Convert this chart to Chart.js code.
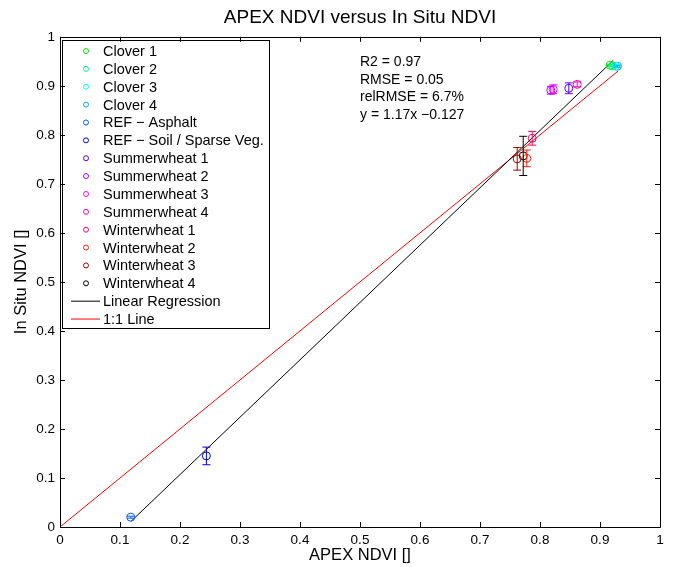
<!DOCTYPE html>
<html>
<head>
<meta charset="utf-8">
<script src="https://cdn.jsdelivr.net/npm/chart.js@4"></script>
<style>
  html, body { margin: 0; padding: 0; background: #fff; }
  #wrap { width: 679px; height: 567px; }
</style>
</head>
<body>
<div id="wrap"><canvas id="chart" width="679" height="567"></canvas></div>
<script>
const seriesNames = ["Clover 1", "Clover 2", "Clover 3", "Clover 4", "REF \u2212 Asphalt", "REF \u2212 Soil / Sparse Veg.",
  "Summerwheat 1", "Summerwheat 2", "Summerwheat 3", "Summerwheat 4",
  "Winterwheat 1", "Winterwheat 2", "Winterwheat 3", "Winterwheat 4"];
const seriesColors = ["#00e000", "#00ff80", "#00ffff", "#00a8ff", "#0060ff", "#0000d0",
  "#5a00ff", "#b000ff", "#ff00ff", "#ff00b0",
  "#ff0060", "#ff2000", "#a00000", "#000000"];
const apexNdvi = [0.917, 0.921, 0.926, 0.929, 0.118, 0.244, 0.848, 0.818, 0.822, 0.862, 0.787, 0.778, 0.762, 0.772];
const inSituNdvi = [0.942, 0.941, 0.940, 0.940, 0.020, 0.145, 0.895, 0.891, 0.893, 0.903, 0.793, 0.752, 0.751, 0.757];
const inSituErr = [0.002, 0.002, 0.002, 0.002, 0.002, 0.018, 0.011, 0.008, 0.009, 0.005, 0.014, 0.017, 0.023, 0.040];

const regression = [{ x: 0.118, y: 1.17 * 0.118 - 0.127 }, { x: 0.922, y: 1.17 * 0.922 - 0.127 }];
const oneToOne = [{ x: 0, y: 0 }, { x: 0.93, y: 0.93 }];
const statsText = ["R2 = 0.97", "RMSE = 0.05", "relRMSE = 6.7%", "y = 1.17x \u22120.127"];
const tickValues = [0, 0.1, 0.2, 0.3, 0.4, 0.5, 0.6, 0.7, 0.8, 0.9, 1];

const FONT = "'Liberation Sans', Arial, sans-serif";

const datasets = seriesNames.map((name, i) => ({
  label: name,
  type: "scatter",
  data: [{ x: apexNdvi[i], y: inSituNdvi[i] }],
  borderColor: seriesColors[i],
  backgroundColor: "rgba(0,0,0,0)",
  pointRadius: 4,
  pointBorderWidth: 1,
  pointStyle: "circle",
}));
datasets.push({
  label: "Linear Regression", type: "line", data: regression,
  borderColor: "#000000", borderWidth: 1, pointRadius: 0, fill: false,
});
datasets.push({
  label: "1:1 Line", type: "line", data: oneToOne,
  borderColor: "#ff0000", borderWidth: 1, pointRadius: 0, fill: false,
});

// error bars, frame with inside ticks, legend box and stats text
const matlabLook = {
  id: "matlabLook",
  afterDatasetsDraw(chart) {
    const ctx = chart.ctx;
    const xs = chart.scales.x, ys = chart.scales.y;
    ctx.save();
    ctx.lineWidth = 1;
    seriesNames.forEach((_, i) => {
      const px = xs.getPixelForValue(apexNdvi[i]);
      const top = ys.getPixelForValue(inSituNdvi[i] + inSituErr[i]);
      const bot = ys.getPixelForValue(inSituNdvi[i] - inSituErr[i]);
      ctx.strokeStyle = seriesColors[i];
      ctx.beginPath();
      ctx.moveTo(px, top); ctx.lineTo(px, bot);
      ctx.moveTo(px - 4, top); ctx.lineTo(px + 4, top);
      ctx.moveTo(px - 4, bot); ctx.lineTo(px + 4, bot);
      ctx.stroke();
    });
    ctx.restore();
  },
  afterDraw(chart) {
    const ctx = chart.ctx;
    const a = chart.chartArea;
    const xs = chart.scales.x, ys = chart.scales.y;
    ctx.save();
    ctx.strokeStyle = "#000";
    ctx.lineWidth = 1;

    // stats
    ctx.fillStyle = "#000";
    ctx.font = "14px " + FONT;
    ctx.textBaseline = "middle";
    ctx.textAlign = "left";
    statsText.forEach((t, i) => ctx.fillText(t, 360, 62 + i * 17.7));

    // legend box
    const lx = 62.5, ly = 40.5, lw = 207, lh = 288;
    ctx.fillStyle = "#fff";
    ctx.fillRect(lx, ly, lw, lh);
    ctx.strokeRect(lx, ly, lw, lh);
    ctx.font = "14.5px " + FONT;
    const rowH = 17.87;
    chart.data.datasets.forEach((ds, i) => {
      const cy = 51 + i * rowH;
      ctx.strokeStyle = ds.borderColor;
      ctx.beginPath();
      if (ds.type === "line") {
        ctx.moveTo(71, cy); ctx.lineTo(100, cy);
      } else {
        ctx.arc(86, cy, 2.5, 0, Math.PI * 2);
      }
      ctx.stroke();
      ctx.fillStyle = "#000";
      ctx.fillText(ds.label, 103, cy + 1);
    });

    // frame and inward ticks
    ctx.strokeStyle = "#000";
    ctx.beginPath();
    ctx.rect(Math.round(a.left) + 0.5, Math.round(a.top) + 0.5,
      Math.round(a.right - a.left), Math.round(a.bottom - a.top));
    tickValues.forEach(v => {
      const px = Math.round(xs.getPixelForValue(v)) + 0.5;
      ctx.moveTo(px, a.bottom); ctx.lineTo(px, a.bottom - 5);
      ctx.moveTo(px, a.top); ctx.lineTo(px, a.top + 5);
      const py = Math.round(ys.getPixelForValue(v)) + 0.5;
      ctx.moveTo(a.left, py); ctx.lineTo(a.left + 5, py);
      ctx.moveTo(a.right, py); ctx.lineTo(a.right - 5, py);
    });
    ctx.stroke();
    ctx.restore();
  }
};

const tickFmt = v => String(Math.round(v * 10) / 10);

new Chart(document.getElementById("chart"), {
  data: { datasets: datasets },
  plugins: [matlabLook],
  options: {
    responsive: false,
    animation: false,
    layout: { padding: { left: 0, right: 19, top: 0, bottom: 0 } },
    plugins: {
      legend: { display: false },
      tooltip: { enabled: false },
      title: {
        display: true,
        text: "APEX NDVI versus In Situ NDVI",
        fullSize: false,
        color: "#000",
        font: { family: FONT, size: 19, weight: "normal" },
        padding: { top: 6, bottom: 8 },
      },
    },
    scales: {
      x: {
        type: "linear", min: 0, max: 1,
        afterFit: s => { s.height = 40; },
        grid: { display: false, drawTicks: false },
        border: { display: false },
        ticks: {
          stepSize: 0.1, autoSkip: false, maxRotation: 0, padding: 5,
          color: "#000", font: { family: FONT, size: 13.5 }, callback: tickFmt,
        },
        title: {
          display: true, text: "APEX NDVI []", color: "#000",
          font: { family: FONT, size: 16.5 }, padding: { top: 0, bottom: 2 },
        },
      },
      y: {
        type: "linear", min: 0, max: 1,
        afterFit: s => { s.width = 60; },
        grid: { display: false, drawTicks: false },
        border: { display: false },
        ticks: {
          stepSize: 0.1, autoSkip: false, padding: 5,
          color: "#000", font: { family: FONT, size: 13.5 }, callback: tickFmt,
        },
        title: {
          display: true, text: "In Situ NDVI []", color: "#000",
          font: { family: FONT, size: 16.5 }, padding: { top: 12, bottom: 0 },
        },
      },
    },
  },
});
</script>
</body>
</html>
